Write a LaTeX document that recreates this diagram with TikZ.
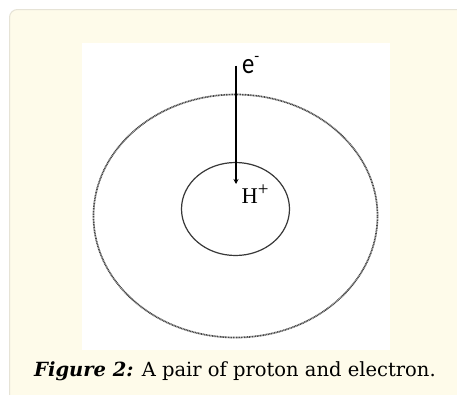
\documentclass[tikz,border=0pt]{standalone}
\usepackage{fontspec}
\setmainfont{DejaVu Serif}
\newfontfamily\labsans{Carlito}
\newfontfamily\labserif{Liberation Serif}
\usetikzlibrary{arrows.meta,shapes.geometric}
\definecolor{cream}{HTML}{FEFBEA}
\definecolor{edge}{HTML}{E6E3D6}
\begin{document}
\begin{tikzpicture}[x=1pt,y=-1pt,
  orbit/.style={draw=black!72, line width=1.7pt, dash pattern=on 1pt off 0.6pt},
  nucleus/.style={draw=black!78, line width=1.2pt},
  label/.style={inner sep=0pt}]
\useasboundingbox (0,0) rectangle (457,394);
\fill[white] (0,0) rectangle (457,394);
\draw[edge, fill=cream, line width=1pt, rounded corners=8pt] (9.5,9.5) rectangle (470,410);
\fill[white] (82,43) rectangle (390,350);
\node[orbit, ellipse, minimum width=284pt, minimum height=243pt, inner sep=0pt] (outer) at (235.5,216) {};
\node[nucleus, ellipse, minimum width=108pt, minimum height=93pt, inner sep=0pt] (inner) at (235.5,209) {};
\coordinate (start) at (236,65.5);
\coordinate (end) at (236,184);
\draw[line width=2pt, -{Stealth[length=5pt,width=5pt]}] (start) -- (end);
\node[label, anchor=base west, font=\labsans\fontsize{29}{29}\selectfont] (e) at (242,73.7) {\scalebox{0.85}[1]{e}\raisebox{12pt}{\fontsize{16}{16}\selectfont -}};
\node[label, anchor=base west, font=\labserif\fontsize{22.5}{22.5}\selectfont] (h) at (241.5,203) {H\raisebox{8pt}{\fontsize{19}{19}\selectfont +}};
\node[inner sep=0pt, anchor=base, font=\fontsize{19.5}{20}\selectfont] (cap) at (235,376) {\textbf{\textit{Figure 2:}} A pair of proton and electron.};
\end{tikzpicture}
\end{document}
